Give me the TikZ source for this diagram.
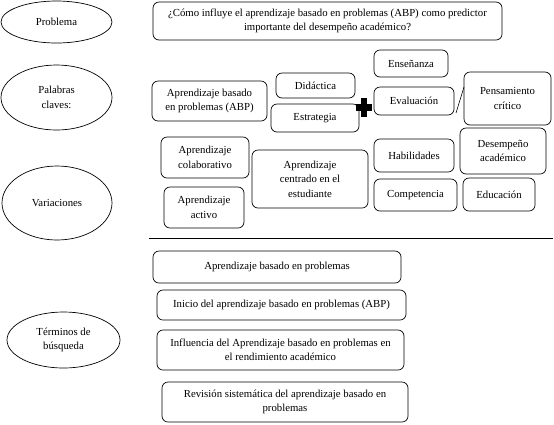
\documentclass[tikz,border=0pt]{standalone}
\usepackage{fontspec}
\setmainfont{Liberation Serif}
\usetikzlibrary{shapes.geometric}
\begin{document}
\begin{tikzpicture}[x=1bp,y=-1bp,
  every node/.style={font=\fontsize{10.8}{14.5}\selectfont, align=center, inner sep=0pt},
  oval/.style={draw, ellipse, line width=0.7pt},
  rbox/.style={draw, rounded corners=6bp, line width=0.7pt}]
\useasboundingbox (0,0) rectangle (554,424);
% ellipses
\node[oval, minimum width=111bp, minimum height=42bp] (prob) at (56.5,22) {Problema};
\node[oval, minimum width=111bp, minimum height=65bp] (pal) at (56.5,97.5) {Palabras\\claves:};
\node[oval, minimum width=110bp, minimum height=74bp] (var) at (57,203) {Variaciones};
\node[oval, minimum width=113bp, minimum height=56bp] (ter) at (63.5,340) {Términos de\\búsqueda};
% boxes
\newcommand{\rb}[6]{\draw[rbox] (#2,#3) rectangle (#4,#5); \node (#1) at ({(#2+#4)/2},{(#3+#5)/2}) {#6};}
\rb{q}{153}{2}{502}{40}{¿Cómo influye el aprendizaje basado en problemas (ABP) como predictor\\importante del desempeño académico?}
\rb{abp}{152}{81}{267}{121}{Aprendizaje basado\\en problemas (ABP)}
\rb{did}{276}{73}{355}{98}{Didáctica}
\rb{est}{271}{104}{359}{132}{Estrategia}
\rb{ens}{374}{50}{448}{77}{Enseñanza}
\rb{eva}{374}{87}{454}{115}{Evaluación}
\rb{pen}{464}{72}{551}{125}{Pensamiento\\crítico}
\rb{col}{161}{137}{249}{178}{Aprendizaje\\colaborativo}
\rb{act}{164}{187}{244}{228}{Aprendizaje\\activo}
\rb{cen}{252}{150}{368}{208}{Aprendizaje\\centrado en el\\estudiante}
\rb{hab}{374}{139}{454}{172}{Habilidades}
\rb{des}{460}{128}{546}{174}{Desempeño\\académico}
\rb{com}{374}{179}{457}{211}{Competencia}
\rb{edu}{463}{178}{535}{211}{Educación}
\rb{t1}{153}{251}{401}{283}{Aprendizaje basado en problemas}
\rb{t2}{157}{290}{406}{320}{Inicio del aprendizaje basado en problemas (ABP)}
\rb{t3}{157}{330}{404}{370}{Influencia del Aprendizaje basado en problemas en\\el rendimiento académico}
\rb{t4}{162}{382}{408}{422}{Revisión sistemática del aprendizaje basado en\\problemas}
% plus sign
\fill (361,98) rectangle (367,117);
\fill (356,104) rectangle (372,111);
% slash between Evaluación and Pensamiento
\coordinate (s1) at (456,113);
\coordinate (s2) at (464,87);
\draw[line width=0.6pt] (s1) -- (s2);
% separator line
\coordinate (l1) at (149,238);
\coordinate (l2) at (553,238);
\draw[line width=0.8pt] (l1) -- (l2);
\end{tikzpicture}
\end{document}
